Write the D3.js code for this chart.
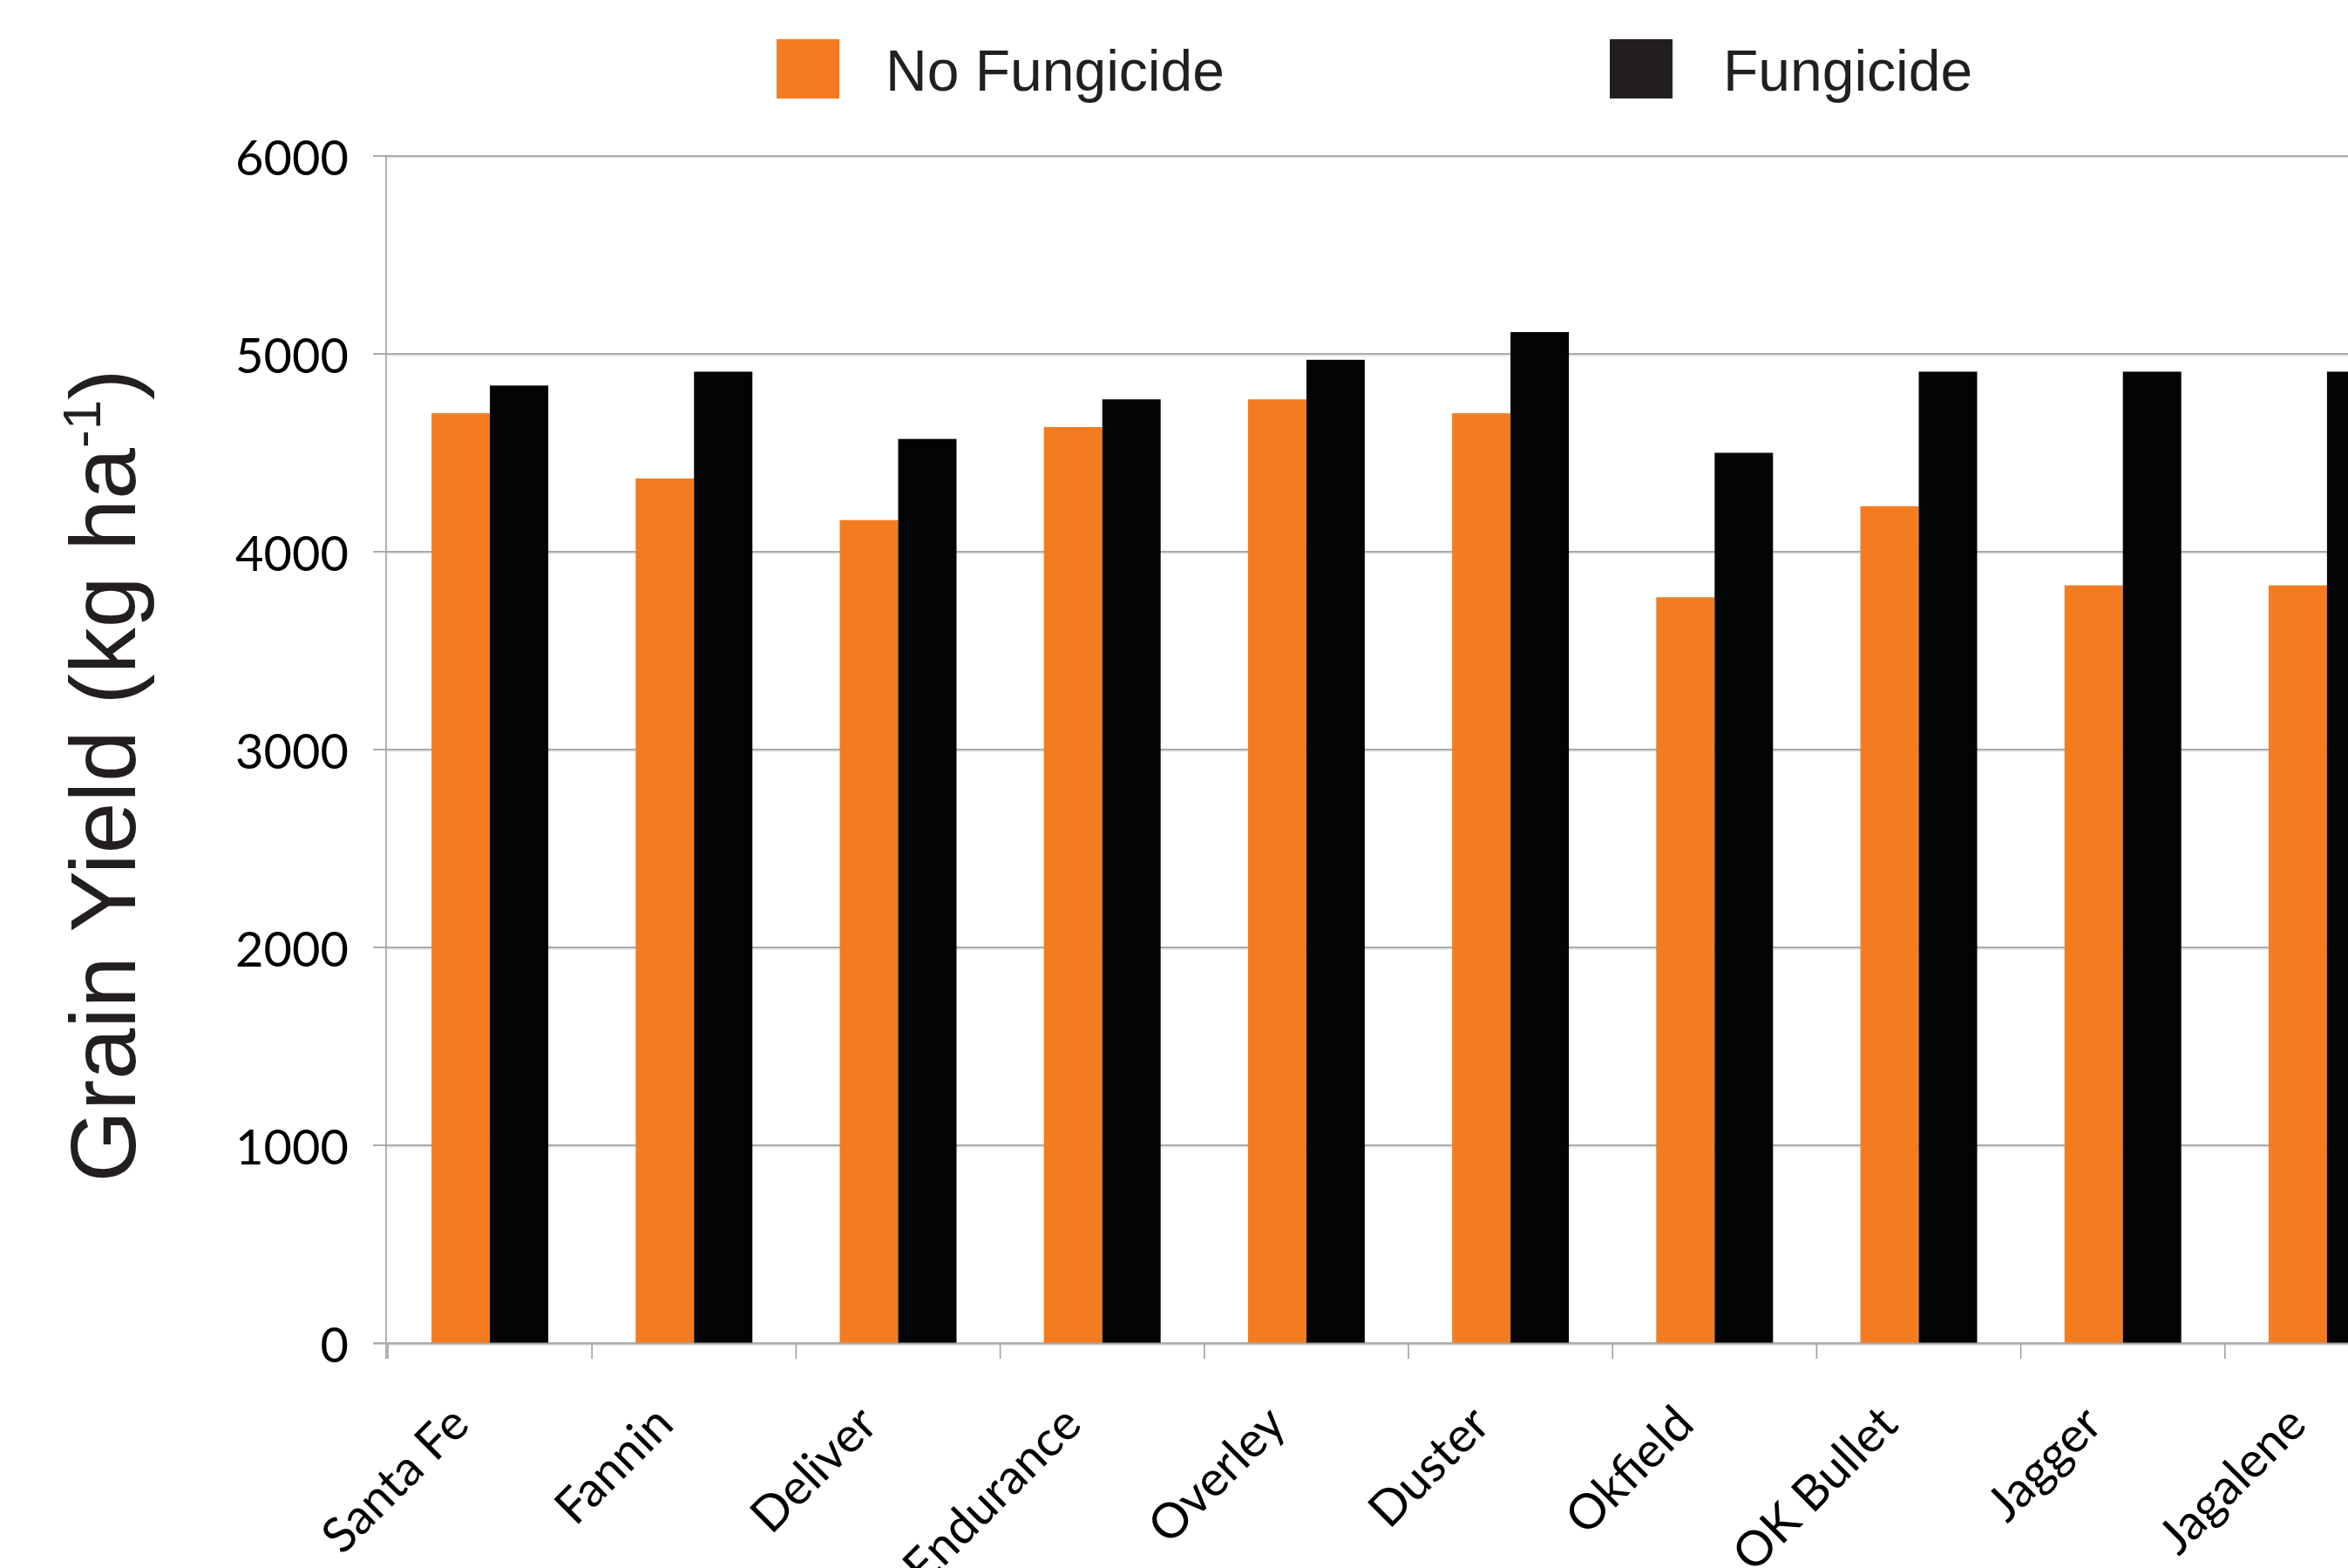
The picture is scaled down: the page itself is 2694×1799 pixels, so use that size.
<!DOCTYPE html>
<html>
<head>
<meta charset="utf-8">
<script src="https://cdn.jsdelivr.net/npm/d3@7"></script>
<style>
  html, body { margin: 0; padding: 0; background: #fff; overflow: hidden; }
  svg { display: block; }
</style>
</head>
<body>
<svg id="chart" width="2694" height="1799"></svg>
<script>
const categories = ["Santa Fe", "Fannin", "Deliver", "Endurance", "Overley", "Duster", "Okfield", "OK Bullet", "Jagger", "Jagalene"];
const noFungicide = [4700, 4370, 4160, 4630, 4770, 4700, 3770, 4230, 3830, 3830];
const fungicide   = [4840, 4910, 4570, 4770, 4970, 5110, 4500, 4910, 4910, 4910];
const seriesNames = ["No Fungicide", "Fungicide"];
const yTicks = [0, 1000, 2000, 3000, 4000, 5000, 6000];
const yTitle = "Grain Yield (kg ha";
const yTitleSup = "-1";

const W = 2694, H = 1799;
const colors = { "No Fungicide": "#f37c21", "Fungicide": "#020504" };
const legendColors = { "No Fungicide": "#f37c21", "Fungicide": "#231f20" };

const svg = d3.select("#chart");

const x = d3.scaleBand().domain(categories).range([445, 2787]).paddingInner(0.428).paddingOuter(0.214);
const x1 = d3.scaleBand().domain(seriesNames).range([0, x.bandwidth()]);
const y = d3.scaleLinear().domain([0, 6000]).range([1541, 179]);

const axisLeftX = 443;
const gridColor = "#ababab";

// gridlines
svg.append("g").selectAll("line").data(yTicks).join("line")
  .attr("x1", axisLeftX - 15).attr("x2", W)
  .attr("y1", d => y(d)).attr("y2", d => y(d))
  .attr("stroke", gridColor).attr("stroke-width", 2.2);
svg.append("g").selectAll("line").data(yTicks).join("line")
  .attr("x1", axisLeftX).attr("x2", W)
  .attr("y1", d => y(d) + 1.8).attr("y2", d => y(d) + 1.8)
  .attr("stroke", "#dcdcdc").attr("stroke-width", 1.2);

// y axis line
svg.append("line")
  .attr("x1", axisLeftX).attr("x2", axisLeftX)
  .attr("y1", y(6000)).attr("y2", y(0) + 18)
  .attr("stroke", "#a0a0a0").attr("stroke-width", 1.6);

// x ticks at band boundaries
const gapHalf = (x.step() - x.bandwidth()) / 2;
svg.append("g").selectAll("line").data(categories).join("line")
  .attr("x1", d => x(d) - gapHalf).attr("x2", d => x(d) - gapHalf)
  .attr("y1", y(0)).attr("y2", y(0) + 18)
  .attr("stroke", "#a0a0a0").attr("stroke-width", 1.6);

// bars
const rows = categories.map((c, i) => ({ cat: c, values: [
  { key: "No Fungicide", value: noFungicide[i] },
  { key: "Fungicide", value: fungicide[i] }
]}));
svg.append("g").selectAll("g").data(rows).join("g")
  .attr("transform", d => `translate(${x(d.cat)},0)`)
  .selectAll("rect").data(d => d.values).join("rect")
  .attr("x", d => x1(d.key))
  .attr("width", x1.bandwidth())
  .attr("y", d => y(d.value))
  .attr("height", d => y(0) - y(d.value))
  .attr("fill", d => colors[d.key]);

// redraw baseline on top
svg.append("line")
  .attr("x1", axisLeftX - 15).attr("x2", W)
  .attr("y1", y(0) + 0.5).attr("y2", y(0) + 0.5)
  .attr("stroke", gridColor).attr("stroke-width", 2.2);

// y tick labels
svg.append("g").selectAll("text").data(yTicks).join("text")
  .attr("x", 400).attr("y", d => y(d))
  .attr("text-anchor", "end").attr("dominant-baseline", "central")
  .attr("font-family", "Lato, 'Open Sans', sans-serif")
  .attr("font-size", 56).attr("fill", "#000")
  .text(d => d);

// x labels
svg.append("g").selectAll("text").data(categories).join("text")
  .attr("transform", d => `translate(${x(d) + x.bandwidth() / 2 - 21},1637) rotate(-45)`)
  .attr("text-anchor", "end")
  .attr("font-family", "Lato, 'Open Sans', sans-serif")
  .attr("font-size", 56).attr("fill", "#000")
  .text(d => d);

// y title
const t = svg.append("text")
  .attr("transform", "translate(155,890) rotate(-90)")
  .attr("text-anchor", "middle")
  .attr("font-family", "'Liberation Sans', Arial, sans-serif")
  .attr("font-size", 106).attr("fill", "#231f20");
t.append("tspan").text(yTitle);
t.append("tspan").attr("font-size", 62).attr("dy", -40).text(yTitleSup);
t.append("tspan").attr("dy", 40).text(")");

// legend
const legendPos = [{ key: "No Fungicide", rx: 891, tx: 1016 }, { key: "Fungicide", rx: 1847, tx: 1977 }];
const lg = svg.append("g");
lg.selectAll("rect").data(legendPos).join("rect")
  .attr("x", d => d.rx).attr("y", 45).attr("width", 72).attr("height", 68)
  .attr("fill", d => legendColors[d.key]);
lg.selectAll("text").data(legendPos).join("text")
  .attr("x", d => d.tx).attr("y", 104)
  .attr("font-family", "'Liberation Sans', Arial, sans-serif")
  .attr("font-size", 66).attr("fill", "#231f20")
  .text(d => d.key);
</script>
</body>
</html>
